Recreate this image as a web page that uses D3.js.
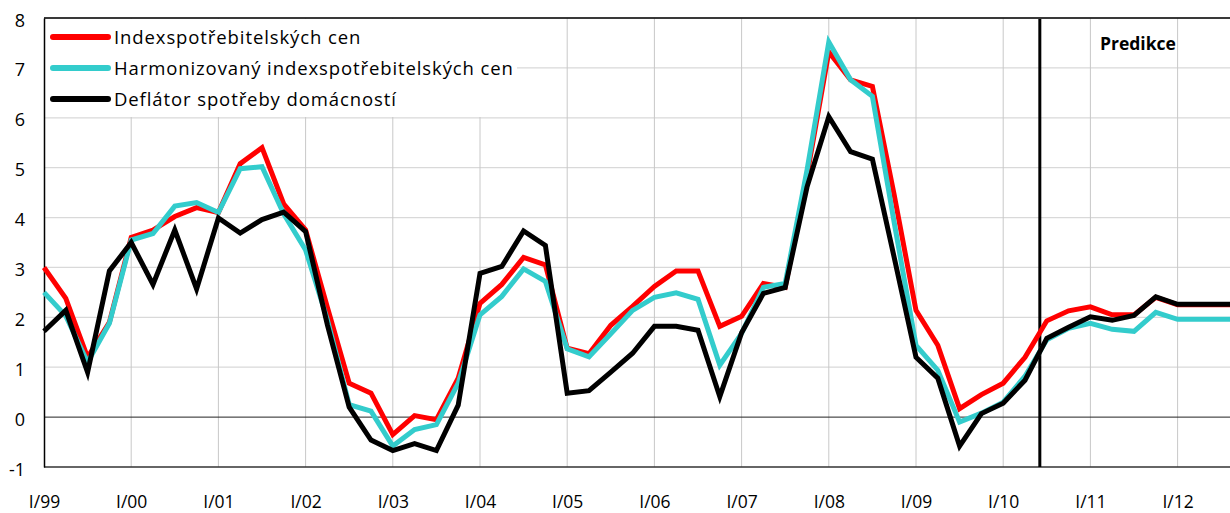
<!DOCTYPE html>
<html>
<head>
<meta charset="utf-8">
<script src="https://cdn.jsdelivr.net/npm/d3@7"></script>
<style>
  body { margin: 0; background: #fff; }
  svg { display: block; font-family: "Open Sans", Lato, sans-serif; }
</style>
</head>
<body>
<svg id="chart" width="1230" height="513"></svg>
<script>
const W = 1230;
const H = 513;
const LEFT = 44;
const TOP = 18;
const BOTTOM = 467;
const STEP = 21.8;

const years = ['99', '00', '01', '02', '03', '04', '05', '06', '07', '08', '09', '10', '11', '12'];
const romans = ['I', 'II', 'III', 'IV'];
const quarters = [];
years.forEach(y => romans.forEach(r => quarters.push(r + '/' + y)));
const tickLabels = years.map(y => 'I/' + y);
const yTicks = [-1, 0, 1, 2, 3, 4, 5, 6, 7, 8];

const seriesNames = ['Indexspotřebitelských cen', 'Harmonizovaný indexspotřebitelských cen', 'Deflátor spotřeby domácností'];
const seriesColors = ['#ff0000', '#33cccc', '#000000'];

const cpi = [3.0, 2.38, 1.2, 1.9, 3.6, 3.75, 4.02, 4.2, 4.1, 5.08, 5.4, 4.27, 3.75, 2.2,
  0.68, 0.48, -0.35, 0.03, -0.05, 0.78, 2.28, 2.66, 3.2, 3.05, 1.38, 1.27, 1.84, 2.22,
  2.62, 2.93, 2.93, 1.82, 2.02, 2.68, 2.6, 4.85, 7.32, 6.76, 6.63, 4.45, 2.14, 1.44,
  0.17, 0.45, 0.68, 1.2, 1.93, 2.13, 2.21, 2.05, 2.05, 2.4, 2.25, 2.25, 2.25, 2.25];
const hicp = [2.5, 2.03, 1.1, 1.88, 3.55, 3.68, 4.23, 4.3, 4.1, 4.98, 5.02, 4.07, 3.35, 1.95,
  0.25, 0.12, -0.58, -0.25, -0.15, 0.68, 2.05, 2.42, 2.97, 2.72, 1.37, 1.21, 1.67, 2.14,
  2.4, 2.49, 2.36, 1.04, 1.68, 2.6, 2.68, 4.95, 7.52, 6.76, 6.43, 3.9, 1.44, 0.94,
  -0.1, 0.08, 0.3, 0.82, 1.55, 1.78, 1.88, 1.76, 1.72, 2.1, 1.96, 1.96, 1.96, 1.96];
const deflator = [1.72, 2.14, 0.9, 2.93, 3.5, 2.66, 3.75, 2.57, 3.99, 3.69, 3.96, 4.11, 3.72, 1.85,
  0.2, -0.46, -0.67, -0.53, -0.67, 0.24, 2.88, 3.02, 3.73, 3.44, 0.48, 0.53, 0.9, 1.28,
  1.82, 1.82, 1.74, 0.41, 1.69, 2.48, 2.6, 4.61, 6.02, 5.32, 5.17, 3.2, 1.2, 0.78,
  -0.58, 0.07, 0.28, 0.74, 1.58, 1.8, 2.01, 1.94, 2.04, 2.41, 2.26, 2.26, 2.26, 2.26];
const series = [cpi, hicp, deflator];

const predictionAfter = 'II/10';
const predictionFrac = 0.68;
const predictionLabel = 'Predikce';

const svg = d3.select('#chart');

const x = d3.scalePoint()
  .domain(quarters)
  .range([LEFT, LEFT + STEP * (quarters.length - 1)]);

const y = d3.scaleLinear()
  .domain([-1, 8])
  .range([BOTTOM, TOP]);

// horizontal gridlines
svg.append('g')
  .selectAll('line')
  .data(yTicks.filter(d => d !== 0 && d !== -1))
  .enter()
  .append('line')
  .attr('x1', LEFT)
  .attr('x2', W)
  .attr('y1', d => y(d))
  .attr('y2', d => y(d))
  .attr('stroke', '#d9d9d9')
  .attr('stroke-width', 1.3);

// vertical gridlines
svg.append('g')
  .selectAll('line')
  .data(tickLabels.slice(1))
  .enter()
  .append('line')
  .attr('x1', d => x(d))
  .attr('x2', d => x(d))
  .attr('y1', TOP)
  .attr('y2', BOTTOM)
  .attr('stroke', '#c8c8c8')
  .attr('stroke-width', 1);

// zero line, top and bottom border
svg.append('line')
  .attr('x1', LEFT).attr('x2', W)
  .attr('y1', y(0)).attr('y2', y(0))
  .attr('stroke', '#222').attr('stroke-width', 1);
svg.append('line')
  .attr('x1', LEFT).attr('x2', W)
  .attr('y1', TOP).attr('y2', TOP)
  .attr('stroke', '#000').attr('stroke-width', 1.3);
svg.append('line')
  .attr('x1', LEFT).attr('x2', W)
  .attr('y1', BOTTOM).attr('y2', BOTTOM)
  .attr('stroke', '#333').attr('stroke-width', 1.3);

// legend box covers gridlines
svg.append('rect')
  .attr('x', LEFT + 1)
  .attr('y', TOP + 1)
  .attr('width', 472)
  .attr('height', 98)
  .attr('fill', '#fff');

// y axis
const yAxis = d3.axisLeft(y)
  .tickValues(yTicks)
  .tickSize(0)
  .tickPadding(19)
  .tickFormat(d => String(d));
const gy = svg.append('g')
  .attr('transform', 'translate(' + LEFT + ',0)')
  .call(yAxis);
gy.select('.domain').attr('stroke', '#000').attr('stroke-width', 1.5);
gy.selectAll('text')
  .attr('font-size', 18)
  .attr('dy', '0.45em')
  .attr('font-family', '"Open Sans", Lato, sans-serif')
  .attr('fill', '#000');

// x axis labels
const xAxis = d3.axisBottom(x)
  .tickValues(tickLabels)
  .tickSize(0)
  .tickPadding(29);
const gx = svg.append('g')
  .attr('transform', 'translate(0,' + BOTTOM + ')')
  .call(xAxis);
gx.select('.domain').remove();
gx.selectAll('text')
  .attr('font-size', 17.5)
  .attr('font-family', '"Open Sans", Lato, sans-serif')
  .attr('fill', '#000');

// prediction marker
const px = x(predictionAfter) + predictionFrac * x.step();
svg.append('line')
  .attr('x1', px).attr('x2', px)
  .attr('y1', TOP + 1).attr('y2', BOTTOM)
  .attr('stroke', '#000')
  .attr('stroke-width', 3);
svg.append('text')
  .attr('x', 1100)
  .attr('y', 50)
  .attr('font-size', 17.5)
  .attr('font-weight', 'bold')
  .text(predictionLabel);

// lines
const line = d3.line()
  .x((d, i) => x(quarters[i]))
  .y(d => y(d));

svg.append('g')
  .selectAll('path')
  .data(series)
  .enter()
  .append('path')
  .attr('d', d => line(d))
  .attr('fill', 'none')
  .attr('stroke', (d, i) => seriesColors[i])
  .attr('stroke-width', 5)
  .attr('stroke-linejoin', 'miter');

// legend
const legend = svg.append('g')
  .selectAll('g')
  .data(seriesNames)
  .enter()
  .append('g')
  .attr('transform', (d, i) => 'translate(53,' + (37 + i * 31) + ')');
legend.append('line')
  .attr('x1', 0).attr('x2', 55)
  .attr('y1', 0).attr('y2', 0)
  .attr('stroke', (d, i) => seriesColors[i])
  .attr('stroke-width', 6)
  .attr('stroke-linecap', 'round');
legend.append('text')
  .attr('x', 61)
  .attr('y', 6.5)
  .attr('font-size', 18.5)
  .attr('letter-spacing', 0.9)
  .text(d => d);
</script>
</body>
</html>
